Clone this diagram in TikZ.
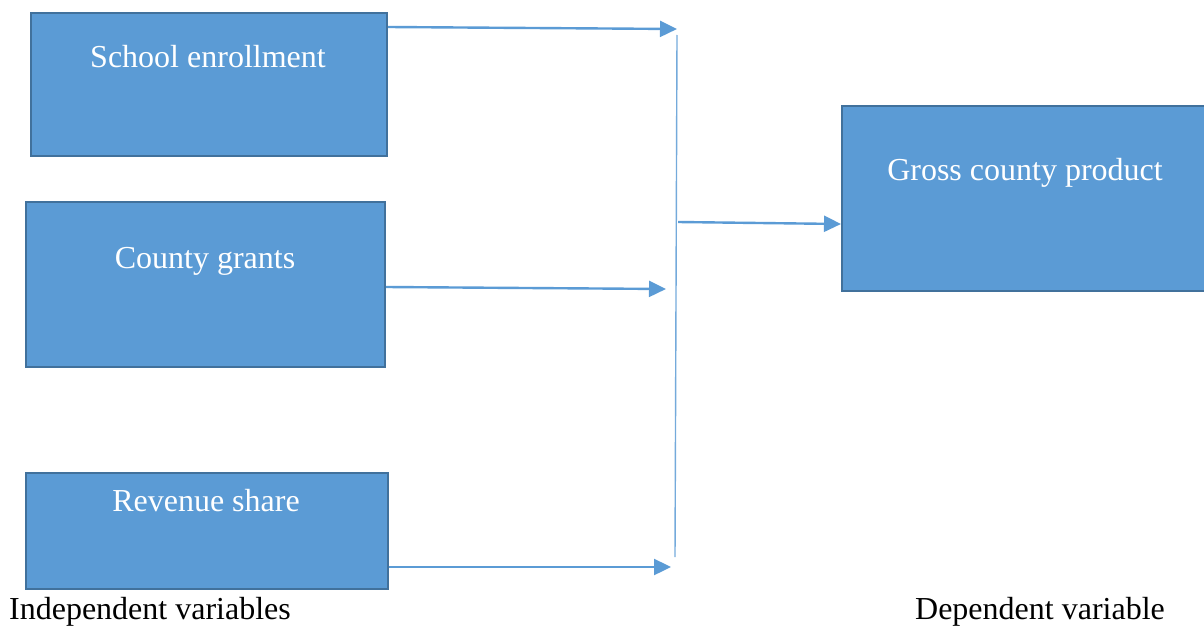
\documentclass[tikz,border=0pt]{standalone}
\usepackage{fontspec}
\setmainfont{Liberation Serif}
\usetikzlibrary{arrows.meta}
\definecolor{boxfill}{HTML}{5B9BD5}
\definecolor{boxline}{HTML}{41719C}
\definecolor{arr}{HTML}{5B9BD5}
\begin{document}
\begin{tikzpicture}[x=1pt,y=-1pt,
  varbox/.style={draw=boxline,fill=boxfill,line width=2pt,inner sep=0pt,anchor=north west},
  boxtext/.style={text=white,font=\fontsize{32}{38}\selectfont,anchor=base,inner sep=0pt},
  captext/.style={text=black,font=\fontsize{32}{38}\selectfont,anchor=base,inner sep=0pt},
  conn/.style={draw=arr,line width=2.4pt,-{Triangle[length=17pt,width=16pt]}},
  bus/.style={draw=arr!85,line width=1.4pt}]
\useasboundingbox (0,0) rectangle (1204,626);
% boxes
\node[varbox,minimum width=356pt,minimum height=143pt] (A) at (30,12) {};
\node[varbox,minimum width=359pt,minimum height=165pt] (B) at (25,201) {};
\node[varbox,minimum width=362pt,minimum height=116pt] (C) at (25,472) {};
\node[varbox,minimum width=370pt,minimum height=185pt] (D) at (841,105) {};
% texts
\node[boxtext] (tA) at (208,67) {School enrollment};
\node[boxtext] (tB) at (205,268) {County grants};
\node[boxtext] (tC) at (206,511) {Revenue share};
\node[boxtext] (tD) at (1025,180) {Gross county product};
\node[captext] (iv) at (150,619) {Independent variables};
\node[captext] (dv) at (1040,619) {Dependent variable};
% connector ends
\coordinate (eA) at (677,29);
\coordinate (eB) at (666,289);
\coordinate (eC) at (671,567);
\coordinate (busTop) at (677,35);
\coordinate (busBot) at (675,557);
\coordinate (busMid) at (678,222);
\draw[conn] (A.east |- 0,27) -- (eA);
\draw[conn] (B.east |- 0,287) -- (eB);
\draw[conn] (C.east |- 0,567) -- (eC);
\draw[bus] (busTop) -- (busBot);
\draw[conn] (busMid) -- (D.west |- 0,224);
\end{tikzpicture}
\end{document}
